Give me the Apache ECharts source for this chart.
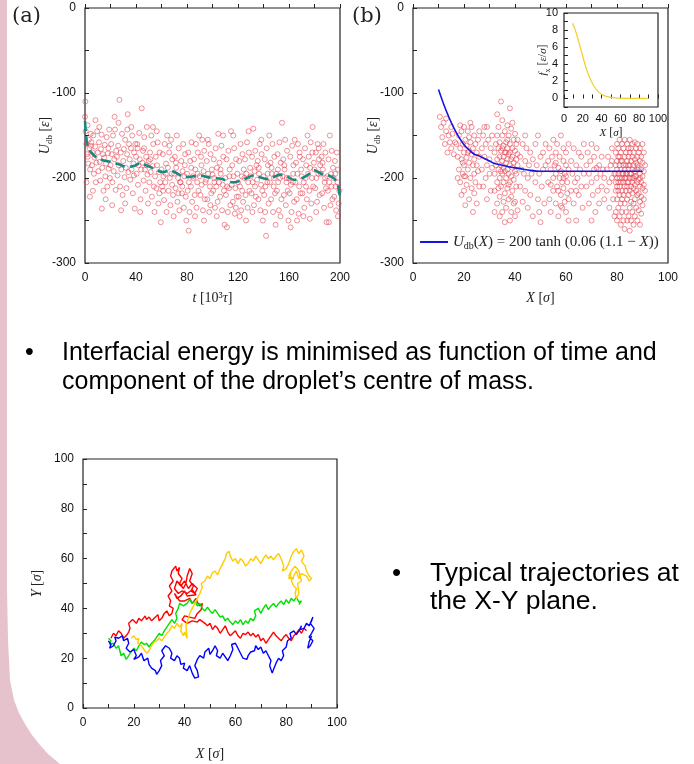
<!DOCTYPE html>
<html>
<head>
<meta charset="utf-8">
<script src="https://cdn.jsdelivr.net/npm/echarts@6/dist/echarts.min.js"></script>
<style>
  html, body { margin: 0; background: #fff; }
  #chart { width: 694px; height: 764px; }
</style>
</head>
<body>
<div id="chart"></div>
<script>
// (a) U_db against time, raw samples
const scatterA = [
  [0,-128],[0.5,-145],[1,-160],[1.5,-172],[2,-138],[2.5,-183],[3,-155],[3.5,-165],[4,-190],[4.5,-148],[0.3,-110],[1.2,-205],[2.2,-175],[3.8,-222],[4.6,-162],
  [5,-158],[5.5,-185],[6,-170],[6.5,-150],[7,-195],[7.5,-176],[8,-163],[8.5,-205],[9,-182],[9.5,-145],[6.2,-215],[8.2,-132],
  [10,-170],[10.5,-192],[11,-158],[11.5,-181],[12,-203],[12.5,-166],[13,-149],[13.5,-188],[14,-172],[14.5,-215],[11.2,-140],[13.2,-236],
  [15,-176],[15.5,-161],[16,-198],[16.5,-183],[17,-152],[17.5,-210],[18,-171],[18.5,-189],[19,-143],[19.5,-200],[16.2,-225],[18.3,-165],
  [20,-185],[20.5,-160],[21,-172],[21.5,-205],[22,-150],[22.5,-192],[23,-178],[23.5,-143],[24,-214],[24.5,-168],[21.3,-232],[23.2,-128],
  [25,-175],[25.5,-197],[26,-162],[26.5,-185],[27,-108],[27.5,-210],[28,-170],[28.5,-190],[29,-148],[29.5,-220],[26.3,-135],[28.3,-238],
  [30,-180],[30.5,-166],[31,-199],[31.5,-155],[32,-188],[32.5,-212],[33,-172],[33.5,-125],[34,-193],[34.5,-160],[31.5,-230],[33.2,-143],
  [35,-178],[35.5,-202],[36,-165],[36.5,-190],[37,-150],[37.5,-218],[38,-183],[38.5,-170],[39,-236],[39.5,-160],[36.3,-140],[38.3,-197],
  [40,-175],[40.5,-195],[41,-160],[41.5,-208],[42,-185],[42.5,-147],[43,-178],[43.5,-225],[44,-190],[44.5,-118],[41.3,-165],[43.3,-240],
  [45,-182],[45.5,-168],[46,-203],[46.5,-152],[47,-190],[47.5,-215],[48,-175],[48.5,-140],[49,-196],[49.5,-230],[46.3,-165],[48.3,-185],
  [50,-180],[50.5,-205],[51,-170],[51.5,-193],[52,-150],[52.5,-222],[53,-186],[53.5,-160],[54,-210],[54.5,-240],[51.3,-178],[53.3,-140],
  [55,-198],[55.5,-175],[56,-212],[56.5,-185],[57,-158],[57.5,-230],[58,-193],[58.5,-170],[59,-205],[59.5,-252],[56.3,-145],[58.3,-218],
  [60,-190],[60.5,-210],[61,-172],[61.5,-198],[62,-226],[62.5,-160],[63,-205],[63.5,-183],[64,-240],[64.5,-150],[61.3,-215],[63.3,-195],
  [65,-188],[65.5,-215],[66,-170],[66.5,-200],[67,-232],[67.5,-155],[68,-195],[68.5,-178],[69,-220],[69.5,-245],[66.3,-162],[68.3,-208],
  [70,-195],[70.5,-175],[71,-212],[71.5,-188],[72,-150],[72.5,-228],[73,-200],[73.5,-165],[74,-238],[74.5,-205],[71.3,-182],[73.3,-218],
  [75,-205],[75.5,-180],[76,-218],[76.5,-192],[77,-160],[77.5,-235],[78,-198],[78.5,-172],[79,-222],[79.5,-250],[76.3,-210],[78.3,-185],
  [80,-195],[80.5,-215],[81,-170],[81.5,-205],[82,-240],[82.5,-180],[83,-210],[83.5,-158],[84,-228],[84.5,-198],[81.3,-262],[83.3,-188],
  [85,-200],[85.5,-178],[86,-220],[86.5,-190],[87,-160],[87.5,-235],[88,-205],[88.5,-170],[89,-215],[89.5,-150],[86.3,-245],[88.3,-195],
  [90,-198],[90.5,-220],[91,-175],[91.5,-208],[92,-155],[92.5,-238],[93,-192],[93.5,-168],[94,-225],[94.5,-205],[91.3,-185],[93.3,-250],
  [95,-202],[95.5,-180],[96,-225],[96.5,-195],[97,-160],[97.5,-240],[98,-210],[98.5,-172],[99,-218],[99.5,-190],[96.3,-155],[98.3,-232],
  [100,-196],[100.5,-215],[101,-178],[101.5,-205],[102,-235],[102.5,-165],[103,-210],[103.5,-188],[104,-228],[104.5,-148],[101.3,-200],[103.3,-245],
  [105,-205],[105.5,-182],[106,-222],[106.5,-195],[107,-162],[107.5,-238],[108,-208],[108.5,-175],[109,-215],[109.5,-255],[106.3,-190],[108.3,-150],
  [110,-200],[110.5,-220],[111,-178],[111.5,-210],[112,-240],[112.5,-168],[113,-212],[113.5,-190],[114,-232],[114.5,-145],[111.3,-258],[113.3,-198],
  [115,-208],[115.5,-185],[116,-228],[116.5,-198],[117,-165],[117.5,-242],[118,-212],[118.5,-178],[119,-222],[119.5,-195],[116.3,-150],[118.3,-235],
  [120,-205],[120.5,-222],[121,-180],[121.5,-210],[122,-160],[122.5,-238],[123,-198],[123.5,-172],[124,-228],[124.5,-190],[121.3,-245],[123.3,-215],
  [125,-200],[125.5,-178],[126,-220],[126.5,-195],[127,-158],[127.5,-235],[128,-205],[128.5,-170],[129,-215],[129.5,-188],[126.3,-250],[128.3,-145],
  [130,-198],[130.5,-218],[131,-175],[131.5,-205],[132,-142],[132.5,-232],[133,-192],[133.5,-168],[134,-222],[134.5,-185],[131.3,-240],[133.3,-210],
  [135,-202],[135.5,-180],[136,-225],[136.5,-195],[137,-160],[137.5,-238],[138,-208],[138.5,-172],[139,-215],[139.5,-250],[136.3,-188],[138.3,-155],
  [140,-198],[140.5,-220],[141,-178],[141.5,-210],[142,-268],[142.5,-165],[143,-205],[143.5,-185],[144,-230],[144.5,-150],[141.3,-240],[143.3,-195],
  [145,-205],[145.5,-182],[146,-225],[146.5,-195],[147,-160],[147.5,-240],[148,-210],[148.5,-175],[149,-218],[149.5,-255],[146.3,-188],[148.3,-200],
  [150,-195],[150.5,-215],[151,-172],[151.5,-205],[152,-238],[152.5,-158],[153,-200],[153.5,-182],[154,-225],[154.5,-135],[151.3,-190],[153.3,-245],
  [155,-198],[155.5,-178],[156,-220],[156.5,-190],[157,-155],[157.5,-232],[158,-205],[158.5,-168],[159,-215],[159.5,-250],[156.3,-185],[158.3,-200],
  [160,-200],[160.5,-218],[161,-175],[161.5,-208],[162,-240],[162.5,-162],[163,-205],[163.5,-185],[164,-228],[164.5,-155],[161.3,-258],[163.3,-195],
  [165,-205],[165.5,-182],[166,-225],[166.5,-195],[167,-160],[167.5,-242],[168,-210],[168.5,-175],[169,-218],[169.5,-190],[166.3,-250],[168.3,-170],
  [170,-198],[170.5,-218],[171,-178],[171.5,-205],[172,-235],[172.5,-165],[173,-200],[173.5,-185],[174,-225],[174.5,-150],[171.3,-245],[173.3,-210],
  [175,-195],[175.5,-175],[176,-215],[176.5,-188],[177,-158],[177.5,-230],[178,-200],[178.5,-140],[179,-210],[179.5,-182],[176.3,-248],[178.3,-170],
  [180,-190],[180.5,-212],[181,-170],[181.5,-200],[182,-228],[182.5,-160],[183,-195],[183.5,-178],[184,-220],[184.5,-185],[181.3,-240],[183.3,-165],
  [185,-195],[185.5,-175],[186,-218],[186.5,-190],[187,-160],[187.5,-235],[188,-205],[188.5,-170],[189,-212],[189.5,-252],[186.3,-182],[188.3,-200],
  [190,-198],[190.5,-215],[191,-178],[191.5,-205],[192,-150],[192.5,-232],[193,-195],[193.5,-168],[194,-225],[194.5,-188],[191.3,-252],[193.3,-210],
  [195,-200],[195.5,-222],[196,-180],[196.5,-210],[197,-238],[197.5,-170],[198,-205],[198.5,-190],[199,-230],[199.5,-215],[196.3,-195],[198.3,-245]
];

// (a) running average (dashed)
const avgT = [0,1,2.6,5,9,14,20,27,33,38,43,48,54,58,62,66,69,74,80,85,90,96,101,107,112,117,122,127,132,137,143,148,153,158,164,168,172,176,180,184,187,191,195,197,199,200];
const avgU = [-133,-152,-166,-170,-176,-179,-181,-184,-187,-186,-183,-185,-189,-192,-193,-191,-192,-196,-199,-198,-197,-199,-200,-201,-204,-205,-203,-200,-197,-199,-201,-199,-196,-198,-202,-201,-199,-195,-191,-194,-196,-197,-200,-204,-213,-225];

// (b) U_db against X, sparse clusters
const scatterB = [
  [10.5,-128],[11,-140],[11.5,-152],[12,-135],[12.5,-160],[13,-145],[13.5,-170],[14,-150],[14.5,-158],[15,-165],[15.5,-148],[16,-172],[13,-130],[15,-140],[16.5,-158],
  [17,-160],[17.5,-175],[18,-150],[18,-190],[18.5,-165],[18.5,-205],[19,-145],[19,-178],[19.5,-195],[19.5,-160],[20,-140],[20,-170],[20,-185],[20,-215],[20.5,-155],[20.5,-198],
  [21,-162],[21,-176],[21,-208],[21.5,-145],[21.5,-190],[22,-168],[22,-182],[22,-225],[22.5,-158],[22.5,-200],[23,-172],[23,-140],[23,-212],[23.5,-185],[23.5,-165],
  [24,-195],[24,-150],[24,-178],[24.5,-205],[24.5,-160],[25,-185],[25,-170],[25,-230],[25.5,-155],[25.5,-192],[26,-175],[26,-210],[26,-145],[17.5,-200],[18.5,-138],
  [19,-220],[20.5,-232],[22.5,-135],[23.5,-240],[21.5,-170],[19.5,-182],[24,-218],[22,-152],[20,-198],
  [27,-165],[27,-190],[27.5,-150],[27.5,-210],[28,-175],[28,-140],[28.5,-200],[28.5,-160],[29,-185],[29,-225],[29.5,-155],[30,-178],[30,-195],[30.5,-165],[30.5,-215],[31,-150],[31,-188],[29,-140],
  [32,-170],[32,-195],[32,-215],[32.5,-160],[32.5,-185],[33,-150],[33,-178],[33,-205],[33,-230],[33.5,-165],[33.5,-190],[33.5,-140],[34,-175],[34,-200],[34,-158],[34,-222],
  [34.5,-185],[34.5,-168],[34.5,-210],[34.5,-110],[35,-150],[35,-180],[35,-195],[35,-240],[35.5,-162],[35.5,-175],[35.5,-205],[35.5,-188],[36,-145],[36,-170],[36,-192],[36,-218],
  [36.5,-158],[36.5,-182],[36.5,-200],[36.5,-235],[37,-165],[37,-178],[37,-190],[37,-212],[37.5,-150],[37.5,-172],[37.5,-195],[37.5,-225],[38,-118],[38,-160],[38,-185],[38,-205],
  [38,-170],[38.5,-142],[38.5,-178],[38.5,-198],[38.5,-240],[39,-165],[39,-188],[39,-215],[39,-175],[39.5,-155],[39.5,-182],[39.5,-202],[40,-168],[40,-192],[40,-228],[40,-148],
  [40.5,-178],[40.5,-210],[40.5,-160],[41,-185],[41,-172],[41,-238],[32,-240],[33,-125],[34,-245],[35,-132],[36,-252],[37,-138],[38,-250],[39,-135],[40,-245],[41,-155],
  [33.5,-212],[34.5,-192],[35.5,-228],[36.5,-170],[37.5,-208],[38.5,-222],[39.5,-230],[40.5,-195],[35,-165],[37,-155],
  [42,-175],[42,-210],[42.5,-190],[43,-160],[43,-228],[43.5,-195],[44,-180],[44,-215],[44.5,-165],[45,-200],[45,-235],[45.5,-185],[46,-170],[46,-220],[46.5,-195],[47,-178],[47,-245],[44,-150],
  [48,-160],[48,-205],[48.5,-185],[49,-150],[49,-225],[49.5,-195],[50,-175],[50,-252],[50.5,-210],[51,-170],[51,-190],[51.5,-230],[52,-185],[52,-160],[49.5,-240],
  [53,-180],[53,-205],[53.5,-165],[53.5,-225],[54,-190],[54,-240],[54.5,-175],[55,-200],[55,-155],[55,-215],[55.5,-185],[56,-170],[56,-230],[56,-195],[56.5,-210],[56.5,-160],
  [57,-188],[57,-245],[57.5,-200],[57.5,-175],[58,-220],[58,-150],[58,-192],[58.5,-205],[58.5,-235],[59,-180],[59,-165],[59,-212],[59.5,-195],[59.5,-228],[60,-185],[60,-240],
  [60,-170],[60.5,-205],[60.5,-218],[61,-190],[61,-160],[61,-250],[57,-215],[58,-233],[59,-200],[54,-208],[56,-182],[60,-198],[61,-225],
  [62,-180],[62,-215],[62.5,-195],[63,-165],[63,-230],[63.5,-205],[64,-185],[64,-250],[64.5,-200],[65,-170],[65,-220],[65.5,-190],[66,-210],[66,-175],[66.5,-235],[67,-195],[67,-160],[64,-215],
  [68,-185],[68,-210],[68.5,-170],[69,-195],[69,-230],[69.5,-180],[70,-160],[70,-205],[70.5,-220],[71,-190],[71,-175],[71.5,-240],[72,-200],[72,-165],[72.5,-215],[73,-185],
  [73,-230],[73.5,-195],[74,-175],[74,-210],[74.5,-190],[75,-225],[75,-200],[70,-250],[72,-188],
  [76,-190],[76,-215],[76.5,-175],[77,-205],[77,-235],[77.5,-185],[78,-200],[78,-165],[78.5,-225],[79,-195],[79,-245],[78,-180]
];

// (b) dense cluster near the far wall: [X, [U values]]
const denseB = [
  [79.5,[-170,-195,-215,-240,-185,-205]],
  [80,[-160,-180,-200,-225,-250,-190,-210]],
  [80.5,[-175,-195,-215,-235,-165,-205]],
  [81,[-155,-185,-200,-220,-245,-175,-210]],
  [81.5,[-170,-190,-205,-230,-255,-180]],
  [82,[-160,-180,-195,-215,-240,-200,-225]],
  [82.5,[-165,-185,-205,-220,-250,-195]],
  [83,[-155,-175,-190,-210,-230,-260,-200]],
  [83.5,[-170,-185,-200,-215,-240,-195]],
  [84,[-160,-180,-195,-210,-225,-250,-205]],
  [84.5,[-165,-175,-190,-205,-220,-245,-185]],
  [85,[-155,-170,-185,-200,-215,-235,-262,-195]],
  [85.5,[-165,-180,-195,-210,-228,-250]],
  [86,[-160,-175,-190,-205,-218,-240,-200]],
  [86.5,[-170,-185,-200,-212,-230,-255]],
  [87,[-158,-178,-192,-208,-225,-245,-198]],
  [87.5,[-165,-182,-198,-215,-235]],
  [88,[-160,-175,-190,-205,-220,-250,-185]],
  [88.5,[-170,-188,-202,-218,-238]],
  [89,[-165,-180,-195,-210,-228,-255,-200]],
  [89.5,[-175,-190,-205,-222,-242]],
  [90,[-160,-182,-198,-212,-232]],
  [90.5,[-170,-192,-208,-225]],
  [91,[-185,-215]]
];

// (b) fitted curve
const fitX = [10,12,14,16,18,20,22,24,26,28,30,32,35,38,42,46,50,60,70,80,90];
const fitU = [-96,-113,-128,-141,-152,-161,-167,-172,-174,-177,-180,-183,-185,-187,-189,-191,-192,-192,-192,-192,-192];

// inset force f_x
const fxX = [9,12,15,18,21,24,27,30,33,36,40,45,50,55,60,70,80,89];
const fxY = [8.8,8.0,6.9,5.7,4.5,3.4,2.5,1.8,1.25,0.85,0.5,0.25,0.12,0.06,0.03,0.01,0,0];

// X-Y trajectories
const trajRed = [[11,28],[12,30],[13,29],[14,31],[15,30],[16,28],[17,29],[18,30.5],[18.5,32],[18,34],[19.5,35.5],[21,34],[22,36],[23,35],[24.5,37],[25,35.5],[26,36.5],[27,35],[28,36],[29.5,37.5],[30,35],[31,36],[32,38],[33,39],[34,37],[35,38],[35.5,40],[34,41],[34.5,43],[33.5,45],[35,47],[34,49],[35.5,51],[34.5,53],[35,55],[36.5,57],[37,55],[38,56.5],[37.5,54],[39,52],[38,50],[39.5,48],[40.5,50],[41,53],[42,56],[43,54],[42,51],[43.5,49],[42.5,47],[44,46],[45,48],[43,50],[41.5,48],[40,51],[38.5,49],[37,51],[36,48],[37.5,46],[39,47],[41,46],[43,47.5],[44.5,45.5],[41,45],[40,47],[38.5,45],[37,44],[36,46],[38,43],[40,43],[42,44],[43,42],[44.5,44],[45,42.5],[46,41],[47,42],[46.5,39.5],[45,38],[44,36],[42,36.5],[40,37],[39,35.5],[41,34],[43,35],[45,34.5],[46,35.5],[48,34],[49,33],[50,34],[51,31.5],[52,33],[53,32],[54,30],[55,31.5],[56,33],[57,30.5],[58,29],[59,30],[60,31],[61,29],[62,28],[63,30],[64,29.5],[65,30.5],[66,29],[67,30],[68,28.5],[69,29.5],[70,27],[71,28],[72,26],[73,27.5],[74,29],[75,30.5],[76,29],[77,28],[78,27],[79,28.5],[80,29.5],[81,28],[82,27],[83,29],[84,30],[85,31.5],[86,30],[87,32],[88,31]];
const trajGreen = [[10,28],[11,27],[10.5,25.5],[12,26],[13,24],[14,25],[14.5,23],[15,21],[16,22],[17,19.5],[18,21],[19,22.5],[20,24],[21,23],[22,25],[23,26.5],[24,25.5],[25,26],[26,24.5],[27,26],[28,27],[29,28.5],[30,30],[31,29],[32,31],[33,32.5],[34,34],[35,35.5],[36,34],[37,36],[36.5,38],[37.5,40],[38,42],[39.5,41],[41,42],[42,43.5],[43,42],[44,43],[45,41],[46,42],[47,40],[48,39],[49,40.5],[50,39],[51,38],[52,39.5],[53,38],[54,36.5],[55,37],[56,35],[57,36],[58,34.5],[59,33.5],[60,35],[61,34],[62,35.5],[63,33.5],[64,35],[65,34],[66,36],[67,35],[68,37],[67.5,39],[69,40],[70,38],[71,40],[72,41.5],[73,39.5],[74,41],[75,42],[76,40.5],[77,42],[78,43],[79,41.5],[80,43.5],[81,42],[82,44],[83,43],[84,44.5],[85,42.5],[86,43],[85,41.5]];
const trajYellow = [[19,28],[20,29],[21,27.5],[22,28],[21.5,26],[23,25],[24,23.5],[25,22],[26,23],[27,25],[28,26.5],[29,27],[30,28],[31,27],[32,28.5],[33,30],[34,31],[35,33],[36,32],[37,34],[38,32.5],[39,34],[38.5,31],[39.5,29],[40,30.5],[41,28],[40.5,33],[41.5,36],[42,38],[43,40],[44,42],[45,44],[46,46],[47,48.5],[46.5,50],[48,51],[49,53],[50,52],[51,54.5],[52,55],[53,53.5],[54,56],[55,58],[56,60],[56.5,62],[57.5,63],[58,61],[59,59],[60,60],[61,58],[62,60],[63,59],[64,57],[65,58],[66,60],[67,59],[68,61],[69,59.5],[70,58],[71,60],[72,61.5],[73,60],[74,61],[75,59.5],[76,61],[77,62],[78,60],[79,57],[78.5,55],[80,56],[81,58],[82,61],[83,63],[84,64],[85,62],[86,63.5],[87,61],[86,59],[87.5,57],[88,55],[89,53],[90,52],[89,51],[88,53],[86,54],[85,52],[84,55],[83,53],[82,51],[83,49],[84,48],[83.5,46],[84,44],[85,46],[84.5,50],[86,51],[85,55],[83.5,57],[82,55],[81,53],[83,52],[81,52],[82,54]];
const trajBlue = [[10,27],[11,25.5],[10.5,24],[12,25],[13,27],[12.5,28.5],[14,28],[15.5,29],[16,27],[17.5,28],[18,26],[17,24],[18.5,22.5],[20,23.5],[21,21],[20,19.5],[22,20.5],[23,22],[24,19],[25.5,20],[26,17.5],[27,16],[28.5,15],[29,13.5],[30,15],[31,17],[30.5,19],[32,21],[31,23],[32.5,25],[34,24],[35,22],[34.5,20],[36,19],[37,21],[38,20],[38.5,17.5],[40,18],[39.5,16],[41,15],[42,17],[43,14],[44,12],[45.5,12.5],[45,15],[44,17],[45,19.5],[46,21],[47.5,20],[48,22.5],[49.5,24],[50,21.5],[51,23],[52,25],[53,23],[52.5,21],[54,20],[55,22],[56,20.5],[57,19],[58,21],[59,23.5],[58.5,25.5],[60,26],[61,24],[62,22],[63,20],[64.5,19.5],[65,21],[66,22.5],[67.5,23],[68,25],[69,23.5],[70,24.5],[71,22],[72,23],[73,21],[74,19],[73.5,17],[74.5,14],[75,15.5],[76,18],[77,20],[78,19],[79,21],[78.5,23],[80,24.5],[80.5,27],[82,28],[81.5,30],[83,31],[84,29.5],[85,31],[86,33],[85.5,31.5],[87,32],[88,34],[89,33],[90,35],[90.5,36.5],[89.5,34],[91,32],[90,30],[89,28.5],[90.5,27],[89.5,25],[88.5,24],[89,26.5],[90,29]];

const sans = '"Liberation Sans", Arial, sans-serif';
const serif = '"Liberation Serif", "DejaVu Serif", serif';

const rich = {
  i: { fontFamily: serif, fontStyle: 'italic', fontSize: 14, lineHeight: 18, color: '#222' },
  s: { fontFamily: serif, fontSize: 9, lineHeight: 9, verticalAlign: 'bottom', color: '#222' },
  li: { fontFamily: serif, fontStyle: 'italic', fontSize: 15, lineHeight: 18, color: '#222' },
  ls: { fontFamily: serif, fontSize: 10, lineHeight: 9, verticalAlign: 'bottom', color: '#222' },
  si: { fontFamily: serif, fontStyle: 'italic', fontSize: 11, lineHeight: 14, color: '#222' },
  ss: { fontFamily: serif, fontSize: 8, lineHeight: 8, verticalAlign: 'bottom', color: '#222' }
};

function axis(gi, min, max, step, labelStep, opt) {
  opt = opt || {};
  const labelMin = opt.labelMin === undefined ? -1e9 : opt.labelMin;
  return Object.assign({
    type: 'value',
    gridIndex: gi,
    min: min,
    max: max,
    interval: step,
    axisLine: { show: false },
    axisTick: { inside: true, length: 4, lineStyle: { color: '#222' } },
    splitLine: { show: false },
    axisLabel: {
      fontFamily: sans,
      fontSize: opt.fontSize || 12,
      color: '#111',
      margin: opt.margin || 9,
      hideOverlap: false,
      showMinLabel: true,
      showMaxLabel: true,
      formatter: v => (v >= labelMin && v % labelStep === 0) ? String(v) : ''
    },
    nameLocation: 'middle',
    nameMoveOverlap: false,
    nameTextStyle: { fontFamily: serif, fontSize: opt.nameSize || 14, color: '#222', lineHeight: 18, rich: rich }
  }, opt.extra || {});
}

const frame = { show: true, borderColor: '#222', borderWidth: 1.2, backgroundColor: 'transparent' };
const dotStyle = { color: 'transparent', borderColor: 'rgba(228,55,70,0.68)', borderWidth: 1 };

const option = {
  animation: false,
  backgroundColor: '#fff',
  grid: [
    Object.assign({ left: 85, top: 8, width: 255, height: 255 }, frame),
    Object.assign({ left: 413, top: 8, width: 255, height: 255 }, frame),
    Object.assign({}, frame, { left: 564, top: 13, width: 94, height: 94, backgroundColor: '#fff' }),
    Object.assign({ left: 83, top: 459, width: 254, height: 250 }, frame)
  ],
  xAxis: [
    axis(0, 0, 200, 20, 40, { extra: { name: '{i|t} [10³{i|τ}]', nameGap: 26 } }),
    axis(1, 0, 100, 10, 20, { extra: { name: '{i|X} [{i|σ}]', nameGap: 26 } }),
    axis(2, 0, 100, 10, 20, { fontSize: 11, nameSize: 12, margin: 6, extra: { name: '{si|X} [{si|σ}]', nameGap: 17 } }),
    axis(3, 0, 100, 10, 20, { extra: { name: '{i|X} [{i|σ}]', nameGap: 37 } })
  ],
  yAxis: [
    axis(0, -300, 0, 50, 100, { extra: { name: '{i|U}{s|db} [{i|ε}]', nameGap: 31, nameRotate: 90 } }),
    axis(1, -300, 0, 50, 100, { extra: { name: '{i|U}{s|db} [{i|ε}]', nameGap: 31, nameRotate: 90 } }),
    axis(2, -1, 10, 1, 2, { fontSize: 11, nameSize: 12, labelMin: 0, margin: 6, extra: { name: '{si|f}{ss|x} [{si|ε}/{si|σ}]', nameGap: 12, nameRotate: 90 } }),
    axis(3, 0, 100, 10, 20, { extra: { name: '{i|Y} [{i|σ}]', nameGap: 37, nameRotate: 90 } })
  ],
  legend: {
    data: ['fit'],
    left: 420,
    top: 233,
    padding: 0,
    icon: 'rect',
    itemWidth: 28,
    itemHeight: 2,
    itemGap: 4,
    selectedMode: false,
    formatter: () => '{li|U}{ls|db}({li|X}) = 200 tanh (0.06 (1.1 − {li|X}))',
    textStyle: { fontFamily: serif, fontSize: 15, color: '#222', lineHeight: 18, rich: rich }
  },
  graphic: [
    { type: 'rect', z: -10, silent: true, shape: { x: 0, y: 0, width: 7, height: 764 }, style: { fill: '#e5c2cc' } },
    { type: 'polygon', z: -10, silent: true,
      shape: { points: [[0,590],[7,590],[8,640],[10,680],[14,700],[19,713],[25,724],[32,735],[40,745],[48,754],[60,764],[0,764]] },
      style: { fill: '#e5c2cc' } },
    { type: 'text', x: 12, y: 6, style: { text: '(a)', font: '21px "DejaVu Serif", serif', fill: '#222' } },
    { type: 'text', x: 352, y: 6, style: { text: '(b)', font: '21px "DejaVu Serif", serif', fill: '#222' } },
    { type: 'text', x: 25, y: 353, style: { text: '•', font: '25px ' + sans, fill: '#000', textVerticalAlign: 'middle' } },
    { type: 'text', x: 62, y: 353, style: { text: 'Interfacial energy is minimised as function of time and', font: '25px ' + sans, fill: '#000', textVerticalAlign: 'middle' } },
    { type: 'text', x: 62, y: 382, style: { text: 'component of the droplet’s centre of mass.', font: '25px ' + sans, fill: '#000', textVerticalAlign: 'middle' } },
    { type: 'text', x: 392, y: 574, style: { text: '•', font: '26px ' + sans, fill: '#000', textVerticalAlign: 'middle' } },
    { type: 'text', x: 430, y: 574, style: { text: 'Typical trajectories at', font: '26.5px ' + sans, fill: '#000', textVerticalAlign: 'middle' } },
    { type: 'text', x: 430, y: 602, style: { text: 'the X-Y plane.', font: '26.5px ' + sans, fill: '#000', textVerticalAlign: 'middle' } }
  ],
  series: [
    {
      type: 'scatter', xAxisIndex: 0, yAxisIndex: 0, data: scatterA,
      symbol: 'circle', symbolSize: 5, itemStyle: dotStyle
    },
    {
      type: 'line', xAxisIndex: 0, yAxisIndex: 0, data: avgT.map((t, k) => [t, avgU[k]]),
      symbol: 'none', smooth: 0.4,
      lineStyle: { color: '#1a887e', width: 2.6, type: [10, 5] }
    },
    {
      type: 'scatter', xAxisIndex: 1, yAxisIndex: 1,
      data: scatterB.concat(denseB.flatMap(c => c[1].map(u => [c[0], u]))),
      symbol: 'circle', symbolSize: 5, itemStyle: dotStyle
    },
    {
      name: 'fit', type: 'line', xAxisIndex: 1, yAxisIndex: 1, data: fitX.map((x, k) => [x, fitU[k]]),
      symbol: 'none', smooth: 0.3, z: 5,
      lineStyle: { color: '#1515e0', width: 1.6 }, itemStyle: { color: '#1515e0' }
    },
    {
      type: 'line', xAxisIndex: 2, yAxisIndex: 2, data: fxX.map((x, k) => [x, fxY[k]]),
      symbol: 'none', smooth: 0.3,
      lineStyle: { color: '#f2d027', width: 1.2 }
    },
    { type: 'line', xAxisIndex: 3, yAxisIndex: 3, data: trajRed, symbol: 'none', lineStyle: { color: '#ff0000', width: 1.4 } },
    { type: 'line', xAxisIndex: 3, yAxisIndex: 3, data: trajGreen, symbol: 'none', lineStyle: { color: '#00e000', width: 1.4 } },
    { type: 'line', xAxisIndex: 3, yAxisIndex: 3, data: trajYellow, symbol: 'none', lineStyle: { color: '#ffcc00', width: 1.4 } },
    { type: 'line', xAxisIndex: 3, yAxisIndex: 3, data: trajBlue, symbol: 'none', lineStyle: { color: '#0000ff', width: 1.4 } }
  ]
};

let chart = echarts.init(document.getElementById('chart'));
chart.setOption(option);
window.addEventListener('resize', function () {
  chart.resize();
});
</script>
</body>
</html>
